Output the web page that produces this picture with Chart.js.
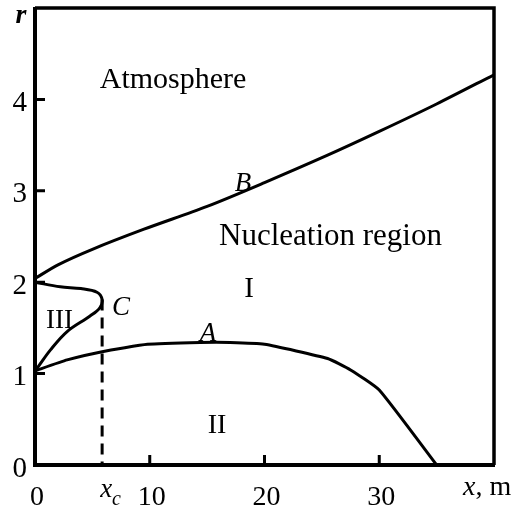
<!DOCTYPE html>
<html>
<head>
<meta charset="utf-8">
<script src="https://cdn.jsdelivr.net/npm/chart.js@4.4.1/dist/chart.umd.min.js"></script>
<style>
  html, body { margin: 0; padding: 0; background: #fff; }
  canvas { display: block; }
</style>
</head>
<body>
<canvas id="chart" width="516" height="511"></canvas>
<script>
// Boundary B: upper edge of the nucleation region
const curveBx = [0, 2, 5, 9.5, 15, 20, 25.5, 30, 35, 40];
const curveBr = [2.04, 2.19, 2.36, 2.58, 2.83, 3.09, 3.39, 3.65, 3.95, 4.27];
// Boundary A: lower edge of the nucleation region
const curveAx = [0, 2.8, 5.85, 9.8, 14.4, 17, 20, 25.5, 27.5, 30, 35];
const curveAr = [1.03, 1.15, 1.24, 1.32, 1.34, 1.34, 1.32, 1.165, 1.04, 0.82, 0];
// Boundary C: closed loop enclosing region III
const curveCx = [0, 2.2, 4, 5.4, 5.85, 5.65, 4.8, 2.8, 1.35, 0.3, 0];
const curveCr = [2.0, 1.95, 1.93, 1.89, 1.81, 1.72, 1.63, 1.46, 1.26, 1.08, 1.03];
// Critical distance x_c and the dashed marker down to the axis
const xcValue = 5.85;
const xcLineR = [1.81, 0];
// Axis ticks
const xTicks = [0, 10, 20, 30];
const yTicks = [0, 1, 2, 3, 4];

const pts = (xs, ys) => xs.map((x, i) => ({ x, y: ys[i] }));

const SERIF = '"Liberation Serif", "Times New Roman", serif';

// Region and curve labels, positioned in data units
const textLabels = [
  { text: 'Atmosphere', x: 12.03, r: 4.12, font: '30px ' + SERIF },
  { text: 'Nucleation region', x: 25.75, r: 2.41, font: '31px ' + SERIF },
  { text: 'I', x: 18.65, r: 1.84, font: '29px ' + SERIF },
  { text: 'III', x: 2.13, r: 1.50, font: '27px ' + SERIF },
  { text: 'II', x: 15.86, r: 0.35, font: '28px ' + SERIF },
  { text: 'C', x: 7.49, r: 1.64, font: 'italic 27px ' + SERIF },
  { text: 'A', x: 15.08, r: 1.36, font: 'italic 27px ' + SERIF },
  { text: 'B', x: 18.13, r: 3.0, font: 'italic 27px ' + SERIF }
];

const framePlugin = {
  id: 'frameAndText',
  afterDraw(chart) {
    const { ctx, chartArea: a, scales } = chart;
    const sx = scales.x, sy = scales.y;
    ctx.save();
    ctx.strokeStyle = '#000';
    ctx.lineCap = 'butt';
    // frame
    ctx.lineWidth = 4;
    ctx.beginPath();
    ctx.moveTo(a.left, a.top - 1); ctx.lineTo(a.left, a.bottom + 2);
    ctx.moveTo(a.left - 2, a.bottom); ctx.lineTo(a.right + 1, a.bottom);
    ctx.stroke();
    ctx.lineWidth = 3.5;
    ctx.beginPath();
    ctx.moveTo(a.left, a.top); ctx.lineTo(a.right, a.top); ctx.lineTo(a.right, a.bottom);
    ctx.stroke();
    // inward tick marks
    ctx.lineWidth = 3;
    ctx.beginPath();
    [10, 20, 30].forEach(v => {
      const px = sx.getPixelForValue(v);
      ctx.moveTo(px, a.bottom); ctx.lineTo(px, a.bottom - 10);
    });
    [1, 2, 3, 4].forEach(v => {
      const py = sy.getPixelForValue(v);
      ctx.moveTo(a.left, py); ctx.lineTo(a.left + 10, py);
    });
    ctx.stroke();

    // labels inside the plot
    ctx.fillStyle = '#000';
    ctx.textBaseline = 'alphabetic';
    ctx.textAlign = 'center';
    textLabels.forEach(l => {
      ctx.font = l.font;
      ctx.fillText(l.text, sx.getPixelForValue(l.x), sy.getPixelForValue(l.r));
    });

    // axis titles
    ctx.font = 'italic bold 28px ' + SERIF;
    ctx.fillText('r', a.left - 14, a.top + 15);

    ctx.textAlign = 'left';
    const xm = sx.getPixelForValue(37.3);
    const base = a.bottom + 30;
    ctx.font = 'italic 28px ' + SERIF;
    ctx.fillText('x', xm, base);
    const wx = ctx.measureText('x').width;
    ctx.font = '28px ' + SERIF;
    ctx.fillText(', m', xm + wx, base);

    // x_c marker label
    const xcPx = sx.getPixelForValue(xcValue) - 2;
    ctx.font = 'italic 27px ' + SERIF;
    ctx.fillText('x', xcPx, a.bottom + 32);
    const wxc = ctx.measureText('x').width;
    ctx.font = 'italic 20px ' + SERIF;
    ctx.fillText('c', xcPx + wxc, a.bottom + 40);
    ctx.restore();
  }
};

const lineStyle = { borderColor: '#000', borderWidth: 3, pointRadius: 0, showLine: true, fill: false };

new Chart(document.getElementById('chart'), {
  type: 'scatter',
  data: {
    datasets: [
      Object.assign({ label: 'B', data: pts(curveBx, curveBr), tension: 0.3 }, lineStyle),
      Object.assign({ label: 'A', data: pts(curveAx, curveAr), tension: 0.15 }, lineStyle),
      Object.assign({ label: 'C', data: pts(curveCx, curveCr), tension: 0.35 }, lineStyle),
      Object.assign({ label: 'x_c', data: xcLineR.map(r => ({ x: xcValue, y: r })), borderDash: [11, 7] }, lineStyle)
    ]
  },
  options: {
    responsive: false,
    animation: false,
    devicePixelRatio: 1,
    layout: { padding: { top: 8, right: 22, left: 0, bottom: 0 } },
    plugins: { legend: { display: false }, tooltip: { enabled: false } },
    scales: {
      x: {
        type: 'linear', min: 0, max: 40,
        afterBuildTicks(scale) { scale.ticks = xTicks.map(v => ({ value: v })); },
        grid: { display: false, drawTicks: false },
        border: { display: false },
        ticks: {
          color: '#000', padding: 16, labelOffset: 2, maxRotation: 0,
          font: { family: SERIF, size: 28 },
          callback: v => String(v)
        },
        afterFit(scale) {
          scale.height = 46;
          scale.paddingLeft = 0; scale.paddingRight = 0;
        }
      },
      y: {
        type: 'linear', min: 0, max: 5,
        afterBuildTicks(scale) { scale.ticks = yTicks.map(v => ({ value: v })); },
        grid: { display: false, drawTicks: false },
        border: { display: false },
        ticks: {
          color: '#000', padding: 8, labelOffset: 4,
          font: { family: SERIF, size: 29 },
          callback: v => String(v)
        },
        afterFit(scale) {
          scale.width = 35;
          scale.paddingTop = 0; scale.paddingBottom = 0;
        }
      }
    }
  },
  plugins: [framePlugin]
});
</script>
</body>
</html>
